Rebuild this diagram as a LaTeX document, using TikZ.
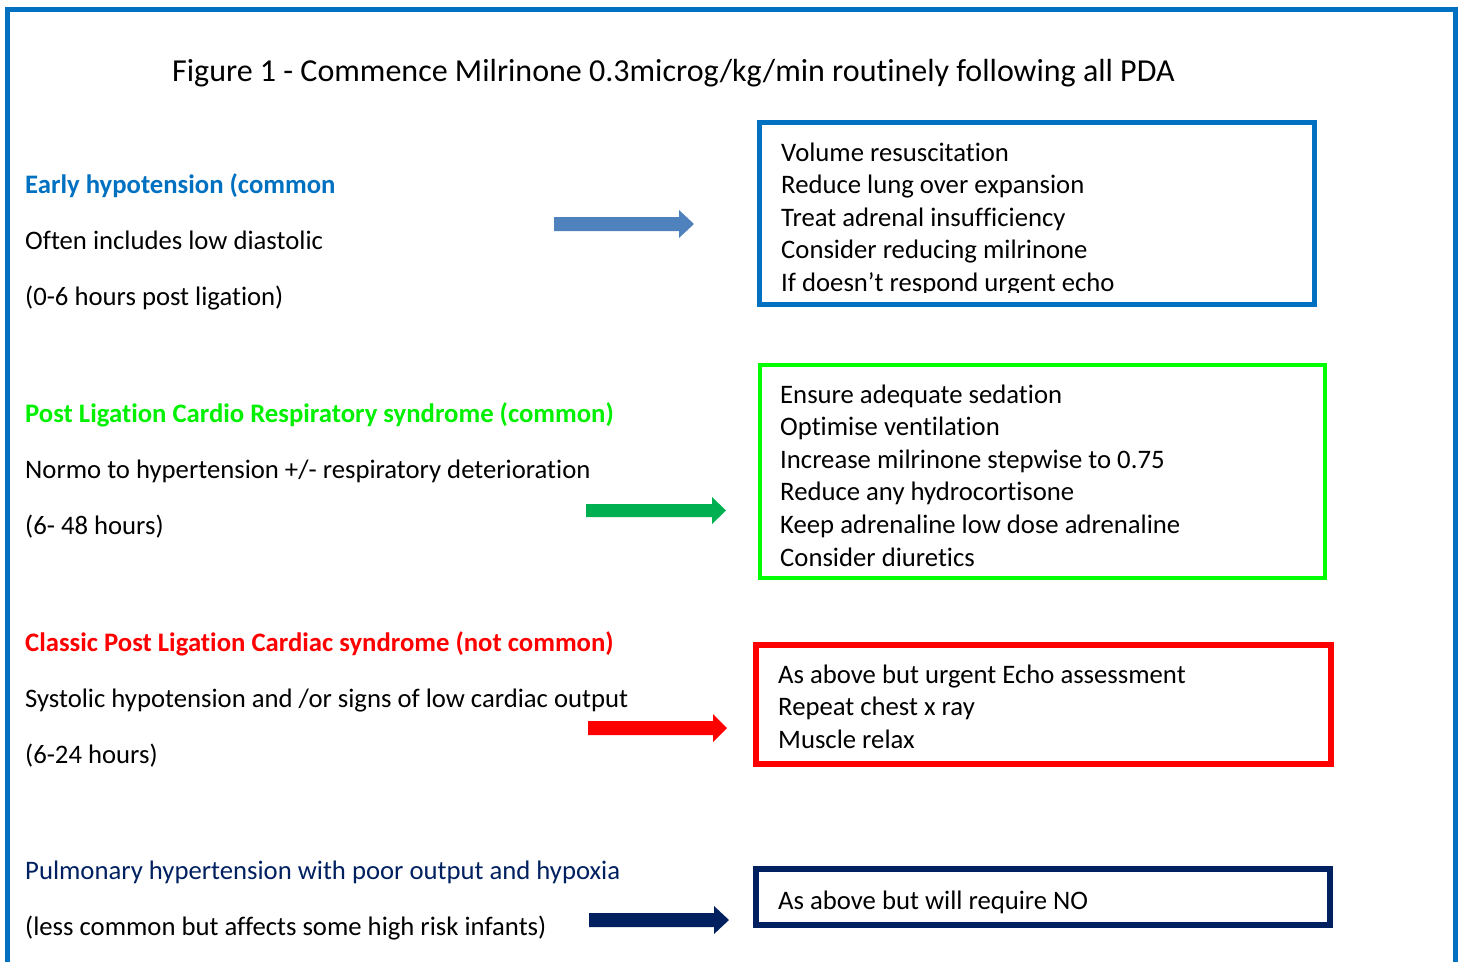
\documentclass[tikz,border=0pt]{standalone}
\usepackage{fontspec}
\setmainfont{Carlito}[Ligatures={NoCommon}, RawFeature={-liga;-clig;-calt}]
\newcommand{\nolig}{\kern0pt{}}
\definecolor{frameblue}{HTML}{0070C0}
\definecolor{lime}{HTML}{00F000}
\definecolor{boxgreen}{HTML}{00FF00}
\definecolor{navy}{HTML}{002060}
\definecolor{arrblue}{HTML}{4F81BD}
\definecolor{arrgreen}{HTML}{00B050}
\definecolor{pured}{HTML}{FF0000}
\begin{document}
\begin{tikzpicture}[x=1pt,y=-1pt,
  txt/.style={anchor=base west, inner sep=0pt, font=\fontsize{26.7}{32.6}\selectfont},
  hdr/.style={txt, font=\fontsize{26.7}{32.6}\selectfont\bfseries},
  ttl/.style={anchor=base west, inner sep=0pt, font=\fontsize{32}{39}\selectfont},
  boxline/.style={line join=miter}]
\useasboundingbox (0,0) rectangle (1463,961);
% outer frame (open at the bottom)
\begin{scope}
\clip (0,0) rectangle (1463,961);
\draw[frameblue, line width=5pt, line join=miter] (7.5,975) -- (7.5,9) -- (1455.5,9) -- (1455.5,975);
\end{scope}
% title
\node[ttl] (title) at (172,81.5) {Figure 1 - Commence Milrinone 0.3microg/kg/min routinely following all PDA};
% left column
\node[hdr, text=frameblue] (h1) at (25,193) {Early hypotension (common};
\node[txt] (h1a) at (25,249) {Often includes low diastolic};
\node[txt] (h1b) at (25,305) {(0-6 hours post ligat\nolig ion)};
\node[hdr, text=lime] (h2) at (25,422) {Post Ligat\nolig ion Cardio Respiratory syndrome (common)};
\node[txt] (h2a) at (25,478) {Normo to hypertension +/- respiratory deteriorat\nolig ion};
\node[txt] (h2b) at (25,534) {(6- 48 hours)};
\node[hdr, text=pured] (h3) at (25,651) {Classic Post Ligat\nolig ion Cardiac syndrome (not common)};
\node[txt] (h3a) at (25,707) {Systolic hypotension and /or signs of low cardiac output};
\node[txt] (h3b) at (25,763) {(6-24 hours)};
\node[txt, text=navy] (h4) at (25,879) {Pulmonary hypertension with poor output and hypoxia};
\node[txt] (h4a) at (25,935) {(less common but affects some high risk infants)};
% block arrows
\fill[arrblue] (554,217) -- (679,217) -- (679,210) -- (694,224) -- (679,238) -- (679,231) -- (554,231) -- cycle;
\fill[arrgreen] (586,504) -- (712,504) -- (712,497) -- (726,510.5) -- (712,524) -- (712,517) -- (586,517) -- cycle;
\fill[pured] (588,721) -- (713,721) -- (713,714) -- (727,728) -- (713,742) -- (713,735) -- (588,735) -- cycle;
\fill[navy] (589,913) -- (714,913) -- (714,906) -- (729,920) -- (714,934) -- (714,927) -- (589,927) -- cycle;
% box 1
\draw[frameblue, line width=5pt, boxline] (759.5,122.5) rectangle (1314.5,304.5);
\begin{scope}
\clip (762,125) rectangle (1312,292);
\node[txt] (b1a) at (781,161) {Volume resuscitat\nolig ion};
\node[txt] (b1b) at (781,193.6) {Reduce lung over expansion};
\node[txt] (b1c) at (781,226.2) {Treat adrenal insuf\nolig f\nolig iciency};
\node[txt] (b1d) at (781,258.8) {Consider reducing milrinone};
\node[txt] (b1e) at (781,291.4) {If doesn’t respond urgent echo};
\end{scope}
% box 2
\draw[boxgreen, line width=4pt, boxline] (760,365) rectangle (1325,578);
\node[txt] (b2a) at (780,403) {Ensure adequate sedat\nolig ion};
\node[txt] (b2b) at (780,435.6) {Opt\nolig imise ventilat\nolig ion};
\node[txt] (b2c) at (780,468.2) {Increase milrinone stepwise to 0.75};
\node[txt] (b2d) at (780,500.8) {Reduce any hydrocort\nolig isone};
\node[txt] (b2e) at (780,533.4) {Keep adrenaline low dose adrenaline};
\node[txt] (b2f) at (780,566) {Consider diuret\nolig ics};
% box 3
\draw[pured, line width=6pt, boxline] (756,645) rectangle (1331,764);
\node[txt] (b3a) at (778,683) {As above but urgent Echo assessment};
\node[txt] (b3b) at (778,715.6) {Repeat chest x ray};
\node[txt] (b3c) at (778,748.2) {Muscle relax};
% box 4
\draw[navy, line width=6pt, boxline] (756,869) rectangle (1330,925);
\node[txt] (b4a) at (778,909) {As above but will require NO};
\end{tikzpicture}
\end{document}
